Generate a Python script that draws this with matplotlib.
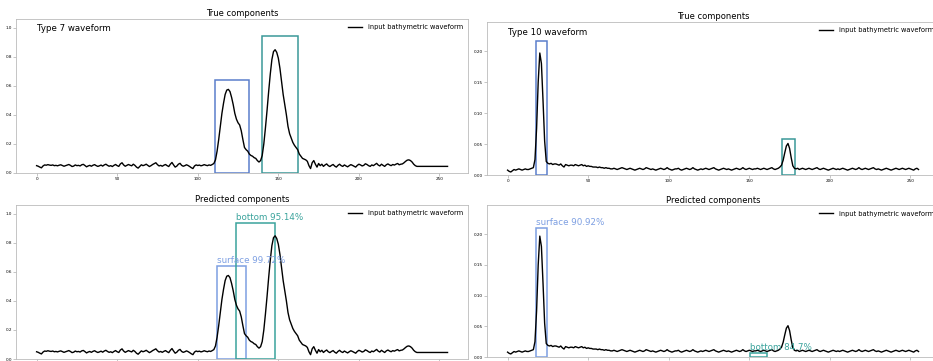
import numpy as np
import matplotlib
matplotlib.use("Agg")
import matplotlib.pyplot as plt
from matplotlib.patches import Rectangle

# waveform of the type 7 example (256 bins)
wave7 = [
    0.050, 0.046, 0.040, 0.035, 0.048, 0.055, 0.053, 0.057, 0.054, 0.052,
    0.055, 0.050, 0.052, 0.049, 0.053, 0.056, 0.051, 0.046, 0.050, 0.054,
    0.058, 0.052, 0.044, 0.047, 0.055, 0.050, 0.052, 0.048, 0.056, 0.059,
    0.051, 0.042, 0.048, 0.052, 0.046, 0.053, 0.057, 0.050, 0.045, 0.049,
    0.054, 0.047, 0.055, 0.060, 0.052, 0.046, 0.050, 0.044, 0.052, 0.058,
    0.050, 0.045, 0.062, 0.070, 0.055, 0.046, 0.052, 0.058, 0.053, 0.049,
    0.060, 0.052, 0.040, 0.033, 0.045, 0.056, 0.050, 0.054, 0.060, 0.052,
    0.044, 0.050, 0.058, 0.064, 0.070, 0.057, 0.048, 0.052, 0.046, 0.053,
    0.058, 0.050, 0.044, 0.060, 0.072, 0.055, 0.040, 0.047, 0.060, 0.066,
    0.052, 0.046, 0.050, 0.056, 0.051, 0.044, 0.036, 0.030, 0.048, 0.055,
    0.051, 0.054, 0.049, 0.052, 0.057, 0.053, 0.050, 0.055, 0.052, 0.058,
    0.065, 0.090, 0.150, 0.230, 0.320, 0.410, 0.480, 0.540, 0.570, 0.575,
    0.560, 0.520, 0.470, 0.410, 0.370, 0.345, 0.330, 0.290, 0.230, 0.175,
    0.160, 0.150, 0.130, 0.120, 0.115, 0.105, 0.100, 0.085, 0.075, 0.085,
    0.120, 0.200, 0.310, 0.430, 0.560, 0.680, 0.780, 0.835, 0.848, 0.830,
    0.790, 0.720, 0.630, 0.540, 0.470, 0.400, 0.320, 0.270, 0.240, 0.210,
    0.190, 0.175, 0.160, 0.130, 0.115, 0.100, 0.095, 0.090, 0.080, 0.050,
    0.030, 0.070, 0.085, 0.060, 0.040, 0.065, 0.050, 0.060, 0.045, 0.055,
    0.062, 0.050, 0.044, 0.052, 0.058, 0.047, 0.040, 0.052, 0.060, 0.050,
    0.045, 0.055, 0.048, 0.042, 0.050, 0.057, 0.052, 0.046, 0.040, 0.052,
    0.060, 0.055, 0.048, 0.052, 0.063, 0.058, 0.050, 0.045, 0.055, 0.050,
    0.058, 0.066, 0.054, 0.048, 0.060, 0.052, 0.045, 0.056, 0.062, 0.055,
    0.050, 0.058, 0.054, 0.060, 0.065, 0.056, 0.060, 0.062, 0.070, 0.080,
    0.088, 0.090, 0.085, 0.075, 0.060, 0.050, 0.045, 0.045, 0.045, 0.045,
    0.045, 0.045, 0.045, 0.045, 0.045, 0.045, 0.045, 0.045, 0.045, 0.045,
    0.045, 0.045, 0.045, 0.045, 0.045, 0.045,
]

# waveform of the type 10 example (256 bins)
wave10 = [
    0.008, 0.006, 0.005, 0.007, 0.009, 0.008, 0.009, 0.010, 0.009, 0.008,
    0.009, 0.010, 0.009, 0.009, 0.010, 0.011, 0.012, 0.025, 0.075, 0.150,
    0.197, 0.180, 0.120, 0.055, 0.022, 0.019, 0.018, 0.019, 0.017, 0.018,
    0.018, 0.017, 0.016, 0.018, 0.015, 0.013, 0.017, 0.016, 0.015, 0.016,
    0.016, 0.015, 0.017, 0.016, 0.015, 0.016, 0.017, 0.015, 0.016, 0.014,
    0.015, 0.014, 0.014, 0.013, 0.013, 0.013, 0.012, 0.013, 0.012, 0.012,
    0.011, 0.012, 0.011, 0.011, 0.010, 0.010, 0.011, 0.010, 0.009, 0.010,
    0.011, 0.012, 0.011, 0.010, 0.009, 0.010, 0.011, 0.010, 0.009, 0.008,
    0.009, 0.010, 0.011, 0.010, 0.009, 0.010, 0.012, 0.011, 0.010, 0.009,
    0.010, 0.009, 0.008, 0.009, 0.010, 0.011, 0.010, 0.009, 0.010, 0.012,
    0.010, 0.009, 0.008, 0.009, 0.010, 0.010, 0.011, 0.009, 0.008, 0.009,
    0.010, 0.011, 0.010, 0.009, 0.010, 0.012, 0.010, 0.009, 0.008, 0.009,
    0.010, 0.009, 0.010, 0.011, 0.010, 0.009, 0.010, 0.011, 0.012, 0.010,
    0.009, 0.008, 0.009, 0.010, 0.011, 0.010, 0.009, 0.010, 0.009, 0.008,
    0.009, 0.010, 0.011, 0.010, 0.009, 0.010, 0.012, 0.010, 0.009, 0.010,
    0.011, 0.010, 0.009, 0.010, 0.010, 0.011, 0.010, 0.009, 0.010, 0.011,
    0.010, 0.009, 0.010, 0.011, 0.012, 0.010, 0.009, 0.010, 0.011, 0.013,
    0.016, 0.024, 0.036, 0.047, 0.051, 0.043, 0.028, 0.015, 0.011, 0.010,
    0.011, 0.009, 0.010, 0.011, 0.010, 0.009, 0.010, 0.011, 0.010, 0.009,
    0.010, 0.011, 0.012, 0.010, 0.009, 0.010, 0.011, 0.010, 0.009, 0.008,
    0.009, 0.010, 0.011, 0.010, 0.009, 0.010, 0.009, 0.010, 0.011, 0.010,
    0.009, 0.008, 0.009, 0.010, 0.011, 0.010, 0.009, 0.010, 0.012, 0.010,
    0.009, 0.010, 0.011, 0.010, 0.009, 0.010, 0.011, 0.012, 0.010, 0.009,
    0.010, 0.009, 0.008, 0.009, 0.010, 0.011, 0.010, 0.009, 0.008, 0.009,
    0.010, 0.011, 0.010, 0.009, 0.010, 0.011, 0.010, 0.009, 0.010, 0.011,
    0.010, 0.009, 0.008, 0.010, 0.011, 0.009,
]

# boxes: (start bin, end bin, height)
true7 = {"surface": (111, 132, 0.64), "bottom": (139.7, 162, 0.94)}
pred7 = {"surface": (112, 130, 0.64), "bottom": (124, 148, 0.933)}
pred7_conf = {"surface": "99.72%", "bottom": "95.14%"}

true10 = {"surface": (17.4, 24.6, 0.217), "bottom": (170.2, 178.3, 0.0575)}
pred10 = {"surface": (17.4, 24.6, 0.21), "bottom": (150.3, 160.7, 0.006)}
pred10_conf = {"surface": "90.92%", "bottom": "84.7%"}

true_col = {"surface": "#5b7fcb", "bottom": "#3a9898"}
pred_col = {"surface": "#7d9fe2", "bottom": "#3aa39c"}


def base(ax, wave, ymax, yticks, title, xlabels=True):
    x = np.arange(len(wave))
    ax.plot(x, wave, color="black", lw=1.0, label="input bathymetric waveform")
    ax.set_ylim(0, ymax)
    ax.set_yticks(yticks)
    ax.set_xticks([0, 50, 100, 150, 200, 250])
    ax.tick_params(labelsize=3, length=2, width=0.4, color="#999999", pad=1)
    if not xlabels:
        ax.tick_params(axis="x", labelbottom=False)
    for s in ax.spines.values():
        s.set_color("#bbbbbb")
        s.set_linewidth(0.6)
    ax.set_title(title, fontsize=6, pad=2)
    ax.legend(loc="upper right", fontsize=4.8, frameon=False, handlelength=2.2,
              borderaxespad=0.4)


def boxes(ax, bx, cols, conf=None, dy=0.0):
    for k, (a, b, h) in bx.items():
        ax.add_patch(Rectangle((a, 0), b - a, h, fill=False, ec=cols[k], lw=1.1))
        if conf is not None:
            ax.text(a, h + dy, f"{k} {conf[k]}", color=cols[k], fontsize=6.3,
                    va="bottom", ha="left")


fig = plt.figure(figsize=(9.33, 3.61), dpi=100)

ax1 = fig.add_axes([0.0172, 0.521, 0.4845, 0.4266])
base(ax1, wave7, 1.06, [0, 0.2, 0.4, 0.6, 0.8, 1.0], "True components")
boxes(ax1, true7, true_col)
ax1.text(0.046, 0.94, "Type 7 waveform", transform=ax1.transAxes, fontsize=6.2,
         va="center")

ax2 = fig.add_axes([0.0172, 0.0055, 0.4845, 0.4266])
base(ax2, wave7, 1.06, [0, 0.2, 0.4, 0.6, 0.8, 1.0], "Predicted components",
     xlabels=False)
boxes(ax2, pred7, pred_col, pred7_conf, dy=0.01)

ax3 = fig.add_axes([0.522, 0.515, 0.4845, 0.424])
base(ax3, wave10, 0.247, [0, 0.05, 0.10, 0.15, 0.20], "True components")
boxes(ax3, true10, true_col)
ax3.text(0.046, 0.93, "Type 10 waveform", transform=ax3.transAxes, fontsize=6.2,
         va="center")

ax4 = fig.add_axes([0.522, 0.011, 0.4845, 0.42])
base(ax4, wave10, 0.247, [0, 0.05, 0.10, 0.15, 0.20], "Predicted components",
     xlabels=False)
boxes(ax4, pred10, pred_col, pred10_conf, dy=0.002)

fig.savefig("out.png", dpi=100)
